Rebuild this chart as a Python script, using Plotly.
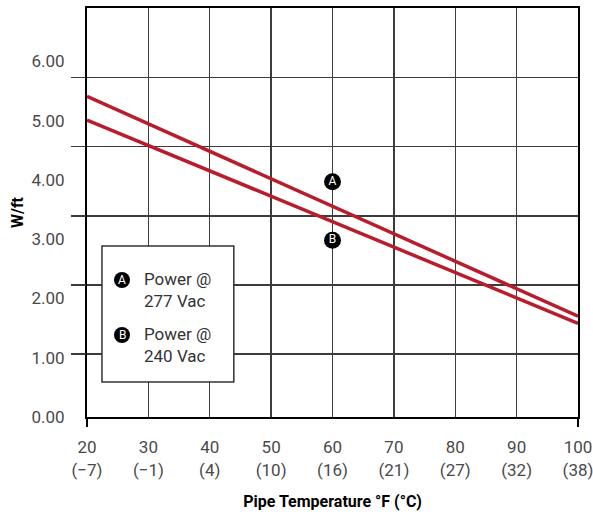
import plotly.graph_objects as go

# ---- data ----
temps_f = [20, 100]
power_277 = [5.41, 1.70]
power_240 = [5.01, 1.58]

x_ticks = [20, 30, 40, 50, 60, 70, 80, 90, 100]
x_ticks_c = ["(−7)", "(−1)", "(4)", "(10)", "(16)", "(21)", "(27)", "(32)", "(38)"]
y_ticks = [0, 1, 2, 3, 4, 5, 6]
y_tick_text = ["0.00", "1.00", "2.00", "3.00", "4.00", "5.00", "6.00"]

marker_labels = ["A", "B"]
marker_x = [60, 60]
marker_y = [3.97, 2.98]
legend_text = ["Power @<br>277 Vac", "Power @<br>240 Vac"]

RED = "#B81D2B"
GRID = "#3c3c3c"
TXT = "#4a4a4a"
FONT = "Roboto"

fig = go.Figure()
fig.add_trace(go.Scatter(x=temps_f, y=power_277, mode="lines",
                         line=dict(color=RED, width=3.5), hoverinfo="skip"))
fig.add_trace(go.Scatter(x=temps_f, y=power_240, mode="lines",
                         line=dict(color=RED, width=3.5), hoverinfo="skip"))
fig.add_trace(go.Scatter(x=marker_x, y=marker_y, mode="markers+text",
                         text=marker_labels, textposition="middle center",
                         textfont=dict(color="white", size=12, family=FONT),
                         marker=dict(color="black", size=17, line=dict(width=0)),
                         hoverinfo="skip"))
# invisible trace for the overlay axes
fig.add_trace(go.Scatter(x=[None], y=[None], xaxis="x2", yaxis="y2",
                         mode="markers", hoverinfo="skip"))

fig.update_layout(
    width=593, height=519,
    margin=dict(l=87, r=15, t=8, b=102, autoexpand=False),
    paper_bgcolor="white", plot_bgcolor="white",
    showlegend=False,
    font=dict(family=FONT, size=17, color=TXT),
    xaxis=dict(
        range=[20, 100], tickvals=x_ticks,
        ticktext=[f"{a}<br>{b}" for a, b in zip(x_ticks, x_ticks_c)],
        showgrid=True, gridcolor=GRID, gridwidth=1.3,
        showline=True, mirror=True, linecolor="black", linewidth=2,
        ticks="", zeroline=False, ticklabelstandoff=14,
        ticklabeloverflow="allow",
        title=dict(text="<b>Pipe Temperature °F (°C)</b>",
                   font=dict(size=16, color="black", family=FONT), standoff=17),
    ),
    xaxis2=dict(
        range=[20, 100], overlaying="x", anchor="y", side="bottom",
        tickvals=[20, 100], ticks="outside", ticklen=9, tickwidth=1.3,
        tickcolor="black", showticklabels=False, showgrid=False,
        showline=False, zeroline=False,
    ),
    yaxis=dict(
        range=[0, 6.9], tickvals=y_ticks, ticktext=y_tick_text,
        showgrid=False, showline=True, mirror=True, linecolor="black",
        linewidth=2, ticks="", zeroline=False, ticklabelstandoff=17,
        title=dict(text="<b>W/ft</b>", font=dict(size=16, color="black", family=FONT),
                   standoff=4),
    ),
    yaxis2=dict(
        range=[0.087, 6.01], overlaying="y", anchor="x", side="left",
        tickvals=[1, 2, 3, 4, 5], ticks="outside", ticklen=15, tickwidth=1.3,
        tickcolor=GRID, showticklabels=False,
        showgrid=True, gridcolor=GRID, gridwidth=1.3,
        showline=False, zeroline=False,
    ),
)

# legend box
fig.add_shape(type="rect", xref="paper", yref="paper",
              x0=0.0305, x1=0.299, y0=0.0856, y1=0.418,
              fillcolor="white", line=dict(color="#333333", width=1.5), layer="above")

legend_cy = [0.335, 0.2005]
legend_ty = [0.311, 0.176]
rx, ry = 8 / 491, 8 / 409
for lab, cy, ty, txt in zip(marker_labels, legend_cy, legend_ty, legend_text):
    fig.add_shape(type="circle", xref="paper", yref="paper",
                  x0=0.0713 - rx, x1=0.0713 + rx, y0=cy - ry, y1=cy + ry,
                  fillcolor="black", line=dict(width=0), layer="above")
    fig.add_annotation(xref="paper", yref="paper", x=0.0713, y=cy, text=lab,
                       showarrow=False, font=dict(color="white", size=12, family=FONT),
                       xanchor="center", yanchor="middle")
    fig.add_annotation(xref="paper", yref="paper", x=0.112, y=ty, text=txt,
                       showarrow=False, align="left",
                       font=dict(color="#333333", size=17, family=FONT),
                       xanchor="left", yanchor="middle")

fig.write_html(
    "out.html",
    config={"displayModeBar": False, "staticPlot": True},
    post_script="document.body.style.margin='0';document.body.style.overflow='hidden';",
)
